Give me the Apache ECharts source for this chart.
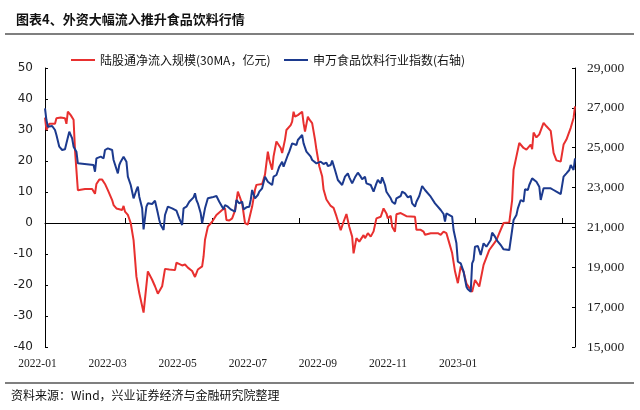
<!DOCTYPE html>
<html>
<head>
<meta charset="utf-8">
<script src="https://cdn.jsdelivr.net/npm/echarts@6/dist/echarts.min.js"></script>
<style>
html,body{margin:0;padding:0;background:#fff;}
#chart{width:640px;height:410px;}
</style>
</head>
<body>
<div id="chart"></div>
<script>
// ---------------- data ----------------
const titleText = '图表4、外资大幅流入推升食品饮料行情';
const sourceText = '资料来源：Wind，兴业证券经济与金融研究院整理';
const redName = '陆股通净流入规模(30MA，亿元)';
const blueName = '申万食品饮料行业指数(右轴)';
const axisStart = '2022-01-04';
const axisEnd = '2023-01-10';
const tickDates = ['2022-03-01','2022-05-01','2022-07-01','2022-09-01','2022-11-01','2023-01-01'];
const xTickLabels = ['2022-01','2022-03','2022-05','2022-07','2022-09','2022-11','2023-01'];

const redDates = ['2022-01-04','2022-01-05','2022-01-07','2022-01-11','2022-01-12','2022-01-15','2022-01-18','2022-01-19','2022-01-20','2022-01-22','2022-01-24','2022-01-25','2022-01-27','2022-02-01','2022-02-06','2022-02-07','2022-02-08','2022-02-09','2022-02-11','2022-02-13','2022-02-15','2022-02-17','2022-02-20','2022-02-21','2022-02-23','2022-02-24','2022-02-27','2022-02-28','2022-03-01','2022-03-03','2022-03-05','2022-03-07','2022-03-09','2022-03-11','2022-03-14','2022-03-17','2022-03-20','2022-03-22','2022-03-24','2022-03-27','2022-03-29','2022-04-01','2022-04-05','2022-04-06','2022-04-10','2022-04-12','2022-04-14','2022-04-17','2022-04-19','2022-04-21','2022-04-24','2022-04-25','2022-04-26','2022-04-28','2022-05-01','2022-05-04','2022-05-08','2022-05-10','2022-05-11','2022-05-13','2022-05-15','2022-05-17','2022-05-19','2022-05-22','2022-05-24','2022-05-26','2022-05-29','2022-05-31','2022-06-01','2022-06-05','2022-06-07','2022-06-09','2022-06-10','2022-06-12','2022-06-13','2022-06-15','2022-06-18','2022-06-19','2022-06-21','2022-06-22','2022-06-25','2022-06-26','2022-06-27','2022-06-28','2022-06-30','2022-07-03','2022-07-04','2022-07-05','2022-07-07','2022-07-08','2022-07-10','2022-07-12','2022-07-13','2022-07-15','2022-07-17','2022-07-18','2022-07-20','2022-07-23','2022-07-25','2022-07-27','2022-07-28','2022-07-30','2022-08-01','2022-08-03','2022-08-05','2022-08-07','2022-08-08','2022-08-10','2022-08-12','2022-08-15','2022-08-16','2022-08-18','2022-08-20','2022-08-22','2022-08-24','2022-08-27','2022-08-29','2022-08-31','2022-09-01','2022-09-03','2022-09-04','2022-09-06','2022-09-07','2022-09-10','2022-09-14','2022-09-20','2022-09-21','2022-09-24','2022-09-26','2022-09-27','2022-10-01','2022-10-06','2022-10-08','2022-10-10','2022-10-12','2022-10-14','2022-10-16','2022-10-18','2022-10-20','2022-10-22','2022-10-24','2022-10-26','2022-10-30','2022-11-01','2022-11-04','2022-11-07','2022-11-11','2022-11-16','2022-11-18','2022-11-21','2022-11-25','2022-11-27','2022-11-28','2022-11-30','2022-12-02','2022-12-05','2022-12-07','2022-12-10','2022-12-11','2022-12-12','2022-12-14','2022-12-16','2022-12-19','2022-12-21','2022-12-24','2022-12-26','2022-12-28','2022-12-31','2023-01-02','2023-01-04','2023-01-07','2023-01-09','2023-01-10'];
const redValues = [34,30,32,32,33.8,34,33.8,32,35.9,34.8,33.3,23.5,10.6,11,11,11.5,9.4,12.6,14,14,12.6,10.6,7.4,5.8,4.7,5.3,4.2,5.5,3.7,2.6,0,-5.5,-17.3,-22.6,-28.9,-15.6,-18.3,-20.4,-22.8,-20.4,-14.8,-15,-15.2,-12.8,-13.7,-13.4,-14.4,-15.5,-17.4,-15,-14,-10.8,-5.4,-1.2,0.4,2.6,4.2,4.7,1,0.8,1.5,4,10.1,6.3,0,-0.5,5.3,10.7,12.3,12.6,15.6,23,20.4,17.2,21.5,26.3,24.2,22.6,26.9,30,31.6,32.7,35.9,34.3,34.8,35.9,32.2,29.5,34.3,33.4,32.2,26.9,23.7,18.3,15.1,10.8,7.6,5.5,4.9,2.2,1.9,-2.3,0.4,2.9,-1.2,-4.4,-9.8,-4.9,-6,-3.9,-4.9,-3.3,-4.4,-2.7,1.5,2,4.7,3.1,1.5,2.3,-1.2,-2.8,2.8,3.2,2.2,2,-2.2,-2.2,-2.8,-3.8,-3.3,-3.3,-3.8,-2.8,-3.3,-6.5,-9.7,-15.6,-19.4,-14,-15.7,-19.5,-22.2,-18.4,-20.5,-13.5,-8.7,-5.5,-3.3,0,0.2,7.4,17.2,21.5,25.8,24.2,23.7,25.3,23.8,29.2,27.6,28.6,32.3,31.2,29.7,22.6,20.2,19.8,25.3,26.9,30.7,33.9,37.6];

const blueDates = ['2022-01-04','2022-01-05','2022-01-06','2022-01-09','2022-01-11','2022-01-12','2022-01-14','2022-01-16','2022-01-18','2022-01-19','2022-01-21','2022-01-23','2022-01-24','2022-01-26','2022-01-27','2022-02-07','2022-02-08','2022-02-09','2022-02-10','2022-02-12','2022-02-14','2022-02-15','2022-02-17','2022-02-20','2022-02-21','2022-02-22','2022-02-24','2022-02-25','2022-02-26','2022-02-28','2022-03-02','2022-03-03','2022-03-05','2022-03-07','2022-03-09','2022-03-10','2022-03-11','2022-03-13','2022-03-14','2022-03-16','2022-03-17','2022-03-20','2022-03-21','2022-03-22','2022-03-24','2022-03-25','2022-03-26','2022-03-28','2022-03-29','2022-03-30','2022-03-31','2022-04-03','2022-04-06','2022-04-08','2022-04-10','2022-04-11','2022-04-13','2022-04-15','2022-04-18','2022-04-19','2022-04-20','2022-04-21','2022-04-23','2022-04-24','2022-04-26','2022-04-28','2022-05-01','2022-05-04','2022-05-06','2022-05-09','2022-05-10','2022-05-12','2022-05-14','2022-05-15','2022-05-17','2022-05-18','2022-05-20','2022-05-22','2022-05-23','2022-05-25','2022-05-27','2022-05-28','2022-05-29','2022-05-31','2022-06-02','2022-06-03','2022-06-05','2022-06-07','2022-06-09','2022-06-10','2022-06-12','2022-06-13','2022-06-15','2022-06-17','2022-06-19','2022-06-20','2022-06-21','2022-06-23','2022-06-24','2022-06-26','2022-06-27','2022-06-29','2022-06-30','2022-07-01','2022-07-03','2022-07-04','2022-07-06','2022-07-07','2022-07-09','2022-07-10','2022-07-13','2022-07-16','2022-07-18','2022-07-20','2022-07-21','2022-07-23','2022-07-24','2022-07-26','2022-07-28','2022-07-29','2022-07-31','2022-08-02','2022-08-04','2022-08-05','2022-08-07','2022-08-09','2022-08-11','2022-08-13','2022-08-14','2022-08-16','2022-08-17','2022-08-20','2022-08-22','2022-08-24','2022-08-25','2022-08-27','2022-08-28','2022-08-30','2022-08-31','2022-09-03','2022-09-04','2022-09-06','2022-09-07','2022-09-10','2022-09-11','2022-09-13','2022-09-15','2022-09-17','2022-09-18','2022-09-20','2022-09-21','2022-09-23','2022-09-25','2022-09-27','2022-10-01','2022-10-04','2022-10-08','2022-10-10','2022-10-11','2022-10-12','2022-10-16','2022-10-17','2022-10-19','2022-10-20','2022-10-22','2022-10-24','2022-10-26','2022-10-27','2022-10-29','2022-10-30','2022-10-31','2022-11-01','2022-11-03','2022-11-05','2022-11-07','2022-11-08','2022-11-09','2022-11-12','2022-11-13','2022-11-15','2022-11-17','2022-11-19','2022-11-21','2022-11-25','2022-11-27','2022-11-28','2022-11-30','2022-12-01','2022-12-03','2022-12-05','2022-12-06','2022-12-08','2022-12-09','2022-12-11','2022-12-12','2022-12-14','2022-12-16','2022-12-17','2022-12-19','2022-12-21','2022-12-24','2022-12-26','2022-12-28','2022-12-31','2023-01-02','2023-01-04','2023-01-06','2023-01-07','2023-01-09','2023-01-10'];
const blueValues = [26976,26390,26056,26090,25889,25638,25052,24885,24920,25220,25805,25470,25052,24800,24216,24132,23798,24467,24383,24550,24467,24885,24969,24885,24383,24467,23714,24132,24300,24550,24300,23547,23129,22460,22878,23045,22543,21958,20904,22042,22209,22175,22125,22343,21707,21372,21122,20871,21623,21707,22042,21958,21840,21456,21122,21958,22042,22292,22510,22711,22376,22209,21707,21205,21958,22460,22510,22577,22292,21907,22125,22042,21907,21958,21790,22376,22209,22292,21907,22008,22042,22376,22878,22460,22627,22794,22962,23547,23296,23380,23129,23547,23631,24049,24300,24049,24132,24634,24801,25220,25303,25136,25387,25470,25638,25220,24801,24885,24550,24383,24216,24300,24183,24250,24082,24132,24350,23882,23380,23413,23129,23547,23714,23514,23212,23514,23748,23547,23413,23547,23212,23129,22794,23212,23380,23212,23514,23129,22794,22460,22292,22175,22460,22577,22794,22711,22510,22577,22209,22042,22292,22577,23079,22878,22543,22209,21874,21674,21288,21707,21540,20871,20202,19282,19198,18780,18027,17893,17776,19198,19365,20034,20068,19616,20202,20286,20034,20369,20737,20536,20286,20118,19900,19867,20871,21372,21623,21958,22376,22292,22912,22878,23129,23463,23380,23296,23045,22376,22962,22962,22962,22878,22794,22677,23547,23714,23882,24132,23882,24467];

// ---------------- build ----------------
function dayList(a, b) {
  const out = [];
  const d = new Date(a + 'T00:00:00Z');
  const end = new Date(b + 'T00:00:00Z');
  while (d <= end) {
    out.push(d.toISOString().slice(0, 10));
    d.setUTCDate(d.getUTCDate() + 1);
  }
  return out;
}
const categories = dayList(axisStart, axisEnd);
const zip = (ds, vs) => ds.map((d, i) => [d, vs[i]]);

const RED = '#E8302F';
const BLUE = '#1C3A8E';
const serif = '"Liberation Serif", "Times New Roman", serif';
const cjk = '"Noto Sans CJK SC", sans-serif';

const chart = echarts.init(document.getElementById('chart'), null, {renderer: 'canvas'});
chart.setOption({
  animation: false,
  backgroundColor: '#fff',
  title: {
    text: titleText, left: 11, top: 8,
    textStyle: {fontFamily: cjk, fontSize: 13, fontWeight: 'bold', color: '#111'}
  },
  legend: [
    {data: [redName], left: 66, top: 49, icon: 'rect', itemWidth: 24, itemHeight: 2, itemGap: 4,
     textStyle: {fontFamily: cjk, fontSize: 12, color: '#111'}},
    {data: [blueName], left: 279, top: 49, icon: 'rect', itemWidth: 24, itemHeight: 2, itemGap: 4,
     textStyle: {fontFamily: cjk, fontSize: 12, color: '#111'}}
  ],
  graphic: [
    {type: 'line', shape: {x1: 5, y1: 34, x2: 634, y2: 34}, style: {stroke: '#7f7f7f', lineWidth: 2}},
    {type: 'line', shape: {x1: 5, y1: 383, x2: 634, y2: 383}, style: {stroke: '#7f7f7f', lineWidth: 2}},
    {type: 'text', left: 11, top: 389, style: {text: sourceText, font: '12px "Noto Sans CJK SC"', fill: '#111'}}
  ],
  grid: [
    {left: 45, right: 65, top: 68, bottom: 63},
    {left: 37.5, width: 420.6, top: 68, bottom: 63}
  ],
  xAxis: [
    {
      type: 'category', gridIndex: 0, data: categories, boundaryGap: false,
      axisLine: {onZero: true, onZeroAxisIndex: 0, lineStyle: {color: '#000', width: 1}},
      axisTick: {inside: true, length: 5, lineStyle: {color: '#000'},
                 interval: (idx, val) => tickDates.indexOf(val) >= 0},
      axisLabel: {show: false},
      splitLine: {show: false}
    },
    {
      type: 'value', gridIndex: 1, min: 0, max: 6, interval: 1,
      axisLine: {show: false}, axisTick: {show: false}, splitLine: {show: false},
      axisLabel: {margin: 11, fontFamily: serif, fontSize: 11.5, color: '#222',
                  formatter: v => xTickLabels[v] || ''}
    }
  ],
  yAxis: [
    {
      type: 'value', gridIndex: 0, min: -40, max: 50, interval: 10, position: 'left',
      axisLine: {show: true, lineStyle: {color: '#000'}},
      axisTick: {show: true, inside: true, length: 3, lineStyle: {color: '#000'}},
      axisLabel: {margin: 12, fontFamily: '"DejaVu Sans", sans-serif', fontSize: 12, color: '#222'},
      splitLine: {show: false}
    },
    {
      type: 'value', gridIndex: 0, min: 15000, max: 29000, interval: 2000, position: 'right',
      axisLine: {show: true, lineStyle: {color: '#000'}},
      axisTick: {show: true, inside: true, length: 3, lineStyle: {color: '#000'}},
      axisLabel: {margin: 12, fontFamily: serif, fontSize: 13.5, color: '#222'},
      splitLine: {show: false}
    },
    {type: 'value', gridIndex: 1, show: false, min: 0, max: 1}
  ],
  series: [
    {name: redName, type: 'line', xAxisIndex: 0, yAxisIndex: 0, data: zip(redDates, redValues),
     showSymbol: false, symbol: 'none', lineStyle: {color: RED, width: 2}, itemStyle: {color: RED}},
    {name: blueName, type: 'line', xAxisIndex: 0, yAxisIndex: 1, data: zip(blueDates, blueValues),
     showSymbol: false, symbol: 'none', lineStyle: {color: BLUE, width: 2}, itemStyle: {color: BLUE}}
  ]
});
</script>
</body>
</html>
